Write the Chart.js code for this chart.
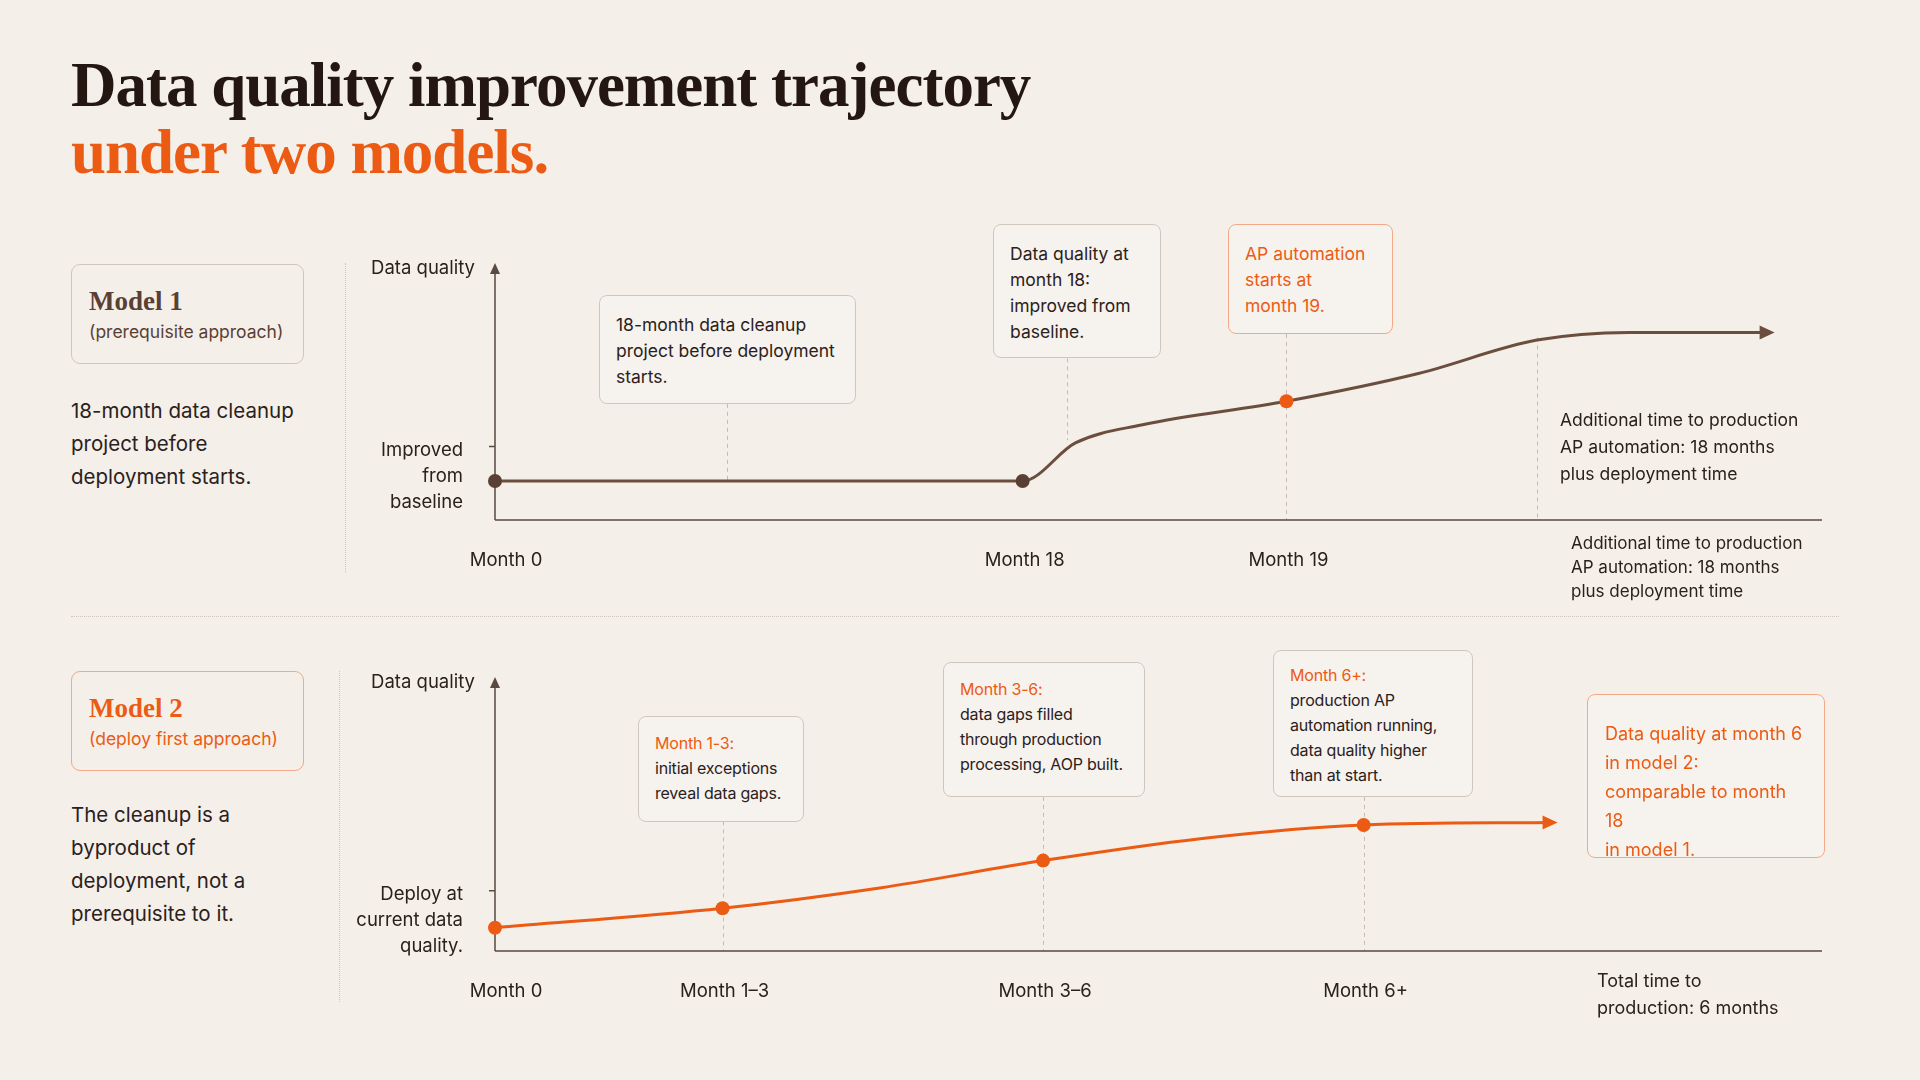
<!DOCTYPE html>
<html><head><meta charset="utf-8">
<script src="https://cdn.jsdelivr.net/npm/chart.js@4.4.1/dist/chart.umd.min.js"></script>
<style>
html,body{margin:0;padding:0;background:#f4efe9;}
body{width:1920px;height:1080px;position:relative;overflow:hidden;font-family:Inter,"Open Sans",sans-serif;color:#2b211c;}
.abs{position:absolute;}
h1{position:absolute;left:71px;top:52px;margin:0;font-family:"Liberation Serif","DejaVu Serif",serif;font-weight:bold;font-size:63px;line-height:67px;letter-spacing:-1px;color:#241712;}
h1 span{color:#ec5b13;}
.box{position:absolute;box-sizing:border-box;border:1.5px solid #cfc7be;border-radius:8px;background:#f6f2ed;padding:16px 16px;font-size:17.5px;line-height:26px;color:#2b211c;}
.box.or{border-color:#f3a888;color:#ec5b13;}
.box .o{color:#ec5b13;}
.model{position:absolute;box-sizing:border-box;border:1.5px solid #cfc7be;border-radius:9px;padding:22px 17px;}
.model b{font-family:"Liberation Serif",serif;font-size:27px;display:block;line-height:28px;margin-bottom:6px;}
.model i{font-style:normal;font-size:17.5px;}
.side{font-size:20.5px;line-height:33px;}
.note{font-size:17.5px;line-height:27px;}
.sm{padding:14px 16px;font-size:16px;line-height:25px;letter-spacing:-0.2px;}
canvas{position:absolute;}
</style></head><body>
<h1>Data quality improvement trajectory<br><span>under two models.</span></h1>

<div class="model" style="left:71px;top:264px;width:233px;height:100px;color:#5a4034"><b>Model 1</b><i>(prerequisite approach)</i></div>
<div class="abs side" style="left:71px;top:394px;">18-month data cleanup<br>project before<br>deployment starts.</div>
<div class="abs" style="left:345px;top:263px;height:310px;border-left:1.5px dotted #cfc7be"></div>

<div class="model" style="left:71px;top:671px;width:233px;height:100px;border-color:#f3a888;color:#ec5b13"><b>Model 2</b><i>(deploy first approach)</i></div>
<div class="abs side" style="left:71px;top:798px;">The cleanup is a<br>byproduct of<br>deployment, not a<br>prerequisite to it.</div>
<div class="abs" style="left:339px;top:671px;height:331px;border-left:1.5px dotted #cfc7be"></div>

<div class="abs" style="left:71px;top:616px;width:1768px;border-top:1.5px dotted #cfc7be"></div>

<canvas id="c1"></canvas>
<canvas id="c2"></canvas>

<div class="box" style="left:599px;top:295px;width:257px;height:109px;">18-month data cleanup<br>project before deployment<br>starts.</div>
<div class="box" style="left:993px;top:224px;width:168px;height:134px;">Data quality at<br>month 18:<br>improved from<br>baseline.</div>
<div class="box or" style="left:1228px;top:224px;width:165px;height:110px;">AP automation<br>starts at<br>month 19.</div>
<div class="abs note" style="left:1560px;top:406px;">Additional time to production<br>AP automation: 18 months<br>plus deployment time</div>
<div class="abs note" style="left:1571px;top:531px;font-size:17px;line-height:24px;">Additional time to production<br>AP automation: 18 months<br>plus deployment time</div>

<div class="box sm" style="left:638px;top:716px;width:166px;height:106px;"><span class="o">Month 1-3:</span><br>initial exceptions<br>reveal data gaps.</div>
<div class="box sm" style="left:943px;top:662px;width:202px;height:135px;"><span class="o">Month 3-6:</span><br>data gaps filled<br>through production<br>processing, AOP built.</div>
<div class="box sm" style="left:1273px;top:650px;width:200px;height:147px;padding-top:12px;"><span class="o">Month 6+:</span><br>production AP<br>automation running,<br>data quality higher<br>than at start.</div>
<div class="box or" style="left:1587px;top:694px;width:238px;height:164px;padding:24px 17px;font-size:18px;line-height:29px;">Data quality at month 6<br>in model 2:<br>comparable to month 18<br>in model 1.</div>
<div class="abs note" style="left:1597px;top:967px;font-size:18px;">Total time to<br>production: 6 months</div>

<script>
// ---- Model 1 data (x = timeline position, y = relative data quality) ----
const m1X = [0, 2, 2.2, 2.45, 3, 3.5, 3.95, 4.3, 4.82];
const m1Y = [0.152, 0.152, 0.30, 0.37, 0.462, 0.57, 0.70, 0.73, 0.73];
const m1Markers = [0, 2, 3];
const m1TickPos = [0, 2, 3];
const m1TickLabels = ["Month 0", "Month 18", "Month 19"];
const m1MarkerColors = ["#5a4034", "#5a4034", "#ec5b13"];

// ---- Model 2 data ----
const m2X = [0, 0.71, 1.2, 1.71, 2.2, 2.71, 3.29];
const m2Y = [0.085, 0.156, 0.23, 0.33, 0.41, 0.46, 0.469];
const m2Markers = [0, 0.71, 1.71, 2.71];
const m2TickPos = [0, 0.71, 1.71, 2.71];
const m2TickLabels = ["Month 0", "Month 1–3", "Month 3–6", "Month 6+"];

function setupCanvas(id, left, top, w, h){
  const c = document.getElementById(id);
  c.style.left = left+'px'; c.style.top = top+'px';
  c.style.width = w+'px'; c.style.height = h+'px';
  c.width = w; c.height = h;
  return c;
}

function makeChart(id, cfg){
  const c = setupCanvas(id, cfg.left, cfg.top, cfg.w, cfg.h);
  const pts = cfg.xs.map((x,i)=>({x, y: cfg.ys[i]}));
  const radii = cfg.xs.map(x => cfg.markers.includes(x) ? 7 : 0);
  const pcol = cfg.xs.map(x => { const k = cfg.markers.indexOf(x); return k>=0 ? (cfg.markerColors ? cfg.markerColors[k] : cfg.color) : cfg.color; });
  const deco = {
    id:'deco',
    beforeDatasetsDraw(chart){
      const {ctx, scales:{x, y}} = chart;
      const x0 = x.getPixelForValue(0), y0 = y.getPixelForValue(0);
      ctx.save();
      ctx.strokeStyle = '#c4bcb3'; ctx.lineWidth = 1; ctx.setLineDash([4,4]);
      cfg.leaders.forEach(l=>{
        ctx.beginPath();
        ctx.moveTo(Math.round(x.getPixelForValue(l[0]))+0.5, y.getPixelForValue(l[1]));
        ctx.lineTo(Math.round(x.getPixelForValue(l[0]))+0.5, y.getPixelForValue(l[2]));
        ctx.stroke();
      });
      ctx.setLineDash([]);
      ctx.strokeStyle = '#5a4a40'; ctx.lineWidth = 1.5;
      ctx.beginPath();
      ctx.moveTo(x0, y0); ctx.lineTo(x0, y.getPixelForValue(1)+6);
      ctx.moveTo(x0, y0); ctx.lineTo(x.getPixelForValue(x.max), y0);
      ctx.stroke();
      ctx.fillStyle = '#5a4a40';
      const yt = y.getPixelForValue(1);
      ctx.beginPath(); ctx.moveTo(x0, yt); ctx.lineTo(x0-5, yt+11); ctx.lineTo(x0+5, yt+11); ctx.closePath(); ctx.fill();
      const ty = y.getPixelForValue(cfg.yTick);
      ctx.beginPath(); ctx.moveTo(x0-6, ty); ctx.lineTo(x0, ty); ctx.stroke();
      ctx.font = '18.5px Inter, sans-serif'; ctx.fillStyle = '#2b211c';
      ctx.textAlign = 'right'; ctx.textBaseline = 'middle';
      ctx.fillText('Data quality', x0-20, yt+5);
      cfg.yTickLabel.forEach((s,i)=> ctx.fillText(s, x0-32, ty+4+i*26));
      ctx.textAlign = 'center';
      cfg.tickPos.forEach((p,i)=> ctx.fillText(cfg.tickLabels[i], x.getPixelForValue(p)+(i===0?11:2), y0+40));
      ctx.restore();
    },
    afterDatasetsDraw(chart){
      const {ctx, scales:{x, y}} = chart;
      const n = cfg.xs.length;
      const ex = x.getPixelForValue(cfg.xs[n-1]), ey = y.getPixelForValue(cfg.ys[n-1]);
      ctx.save(); ctx.fillStyle = cfg.color;
      ctx.beginPath(); ctx.moveTo(ex+8, ey); ctx.lineTo(ex-7, ey-7); ctx.lineTo(ex-7, ey+7); ctx.closePath(); ctx.fill();
      ctx.restore();
    }
  };
  return new Chart(c, {
    type:'line',
    data:{datasets:[{data:pts, borderColor:cfg.color, borderWidth:3, tension:0.4, cubicInterpolationMode:'monotone',
      pointRadius:radii, pointBackgroundColor:pcol, pointBorderWidth:0, fill:false, clip:false}]},
    options:{
      responsive:false, animation:false, devicePixelRatio:1,
      layout:{padding:cfg.pad},
      plugins:{legend:{display:false}, tooltip:{enabled:false}},
      scales:{
        x:{type:'linear', min:0, max:cfg.xMax, display:false},
        y:{type:'linear', min:0, max:1, display:false}
      }
    },
    plugins:[deco]
  });
}

makeChart('c1', {left:345, top:233, w:1500, h:360, pad:{left:150, top:30, right:23, bottom:73},
  xs:m1X, ys:m1Y, markers:m1Markers, markerColors:m1MarkerColors, color:'#6b4e3d', xMax:5.03,
  tickPos:m1TickPos, tickLabels:m1TickLabels, yTick:0.286, yTickLabel:['Improved','from','baseline'],
  leaders:[[0.88,0.452,0.152],[2.17,0.629,0.31],[3,0.724,0],[3.95,0.71,0]]});

makeChart('c2', {left:339, top:647, w:1506, h:380, pad:{left:156, top:30, right:23, bottom:76},
  xs:m2X, ys:m2Y, markers:m2Markers, color:'#ec5b13', xMax:4.14,
  tickPos:m2TickPos, tickLabels:m2TickLabels, yTick:0.22, yTickLabel:['Deploy at','current data','quality.'],
  leaders:[[0.71,0.473,0],[1.71,0.5625,0],[2.71,0.5625,0]]});
</script>
</body></html>
